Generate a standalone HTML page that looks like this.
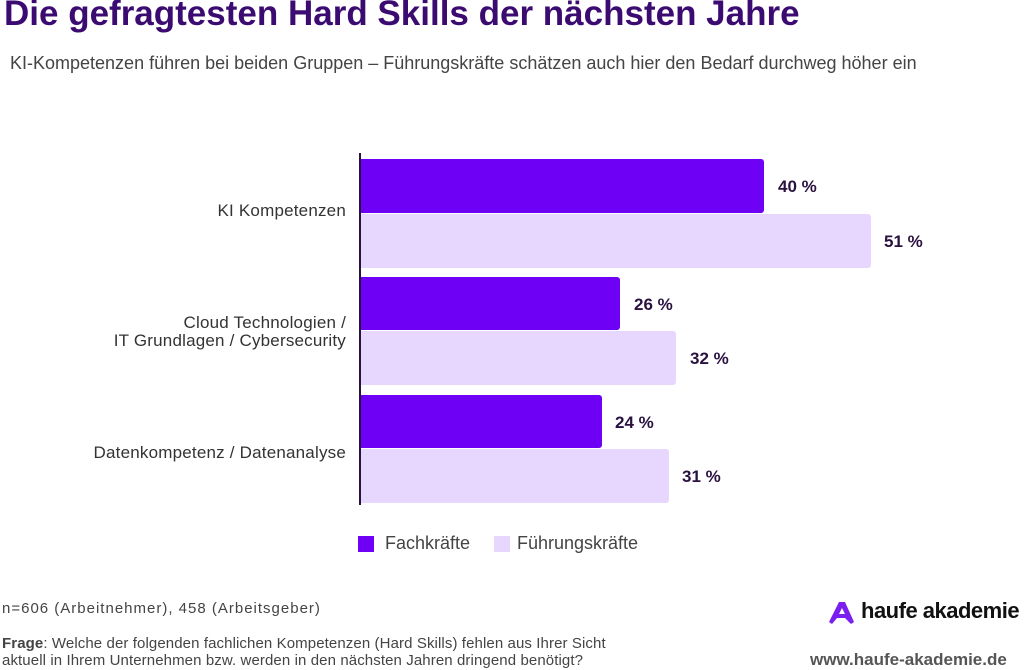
<!DOCTYPE html>
<html><head><meta charset="utf-8"><style>
body{margin:0;width:1024px;height:669px;background:#fff;font-family:"Liberation Sans",sans-serif;position:relative;overflow:hidden}
.a{position:absolute;white-space:nowrap}
.bar{position:absolute;left:361px;border-radius:0 3px 3px 0}
.d{background:#6e00f5}.l{background:#e7d6fd}
.v{position:absolute;font-weight:bold;font-size:17px;color:#2a1240}
.lab{position:absolute;right:678px;text-align:right;font-size:17px;color:#333;line-height:18px;letter-spacing:0.2px}
</style></head><body>
<div class="a" style="left:4px;top:-6px;font-size:35px;font-weight:bold;color:#3b0b72;letter-spacing:0px">Die gefragtesten Hard Skills der nächsten Jahre</div>
<div class="a" style="left:10px;top:53px;font-size:18px;color:#444;letter-spacing:0px">KI-Kompetenzen führen bei beiden Gruppen – Führungskräfte schätzen auch hier den Bedarf durchweg höher ein</div>
<div class="a" style="left:359px;top:153px;width:2px;height:352px;background:#2a1240"></div>
<div class="bar d" style="top:159px;height:54px;width:403px"></div>
<div class="bar l" style="top:214px;height:54px;width:510px"></div>
<div class="bar d" style="top:277px;height:53px;width:259px"></div>
<div class="bar l" style="top:331px;height:54px;width:315px"></div>
<div class="bar d" style="top:395px;height:53px;width:241px"></div>
<div class="bar l" style="top:449px;height:54px;width:308px"></div>
<div class="v" style="left:778px;top:177px">40 %</div>
<div class="v" style="left:884px;top:232px">51 %</div>
<div class="v" style="left:634px;top:295px">26 %</div>
<div class="v" style="left:690px;top:349px">32 %</div>
<div class="v" style="left:615px;top:413px">24 %</div>
<div class="v" style="left:682px;top:467px">31 %</div>
<div class="lab" style="top:202px">KI Kompetenzen</div>
<div class="lab" style="top:314px">Cloud Technologien /<br>IT Grundlagen / Cybersecurity</div>
<div class="lab" style="top:444px">Datenkompetenz / Datenanalyse</div>
<div class="a" style="left:358px;top:536px;width:16px;height:16px;background:#6e00f5"></div>
<div class="a" style="left:385px;top:533px;font-size:18px;color:#444">Fachkräfte</div>
<div class="a" style="left:494px;top:536px;width:16px;height:16px;background:#e7d6fd"></div>
<div class="a" style="left:517px;top:533px;font-size:18px;color:#444">Führungskräfte</div>
<div class="a" style="left:2px;top:600px;font-size:15px;color:#444;letter-spacing:1px">n=606 (Arbeitnehmer), 458 (Arbeitsgeber)</div>
<div class="a" style="left:2px;top:635px;font-size:15px;color:#444;line-height:17px;letter-spacing:0.1px"><b>Frage</b>: Welche der folgenden fachlichen Kompetenzen (Hard Skills) fehlen aus Ihrer Sicht<br>aktuell in Ihrem Unternehmen bzw. werden in den nächsten Jahren dringend benötigt?</div>
<svg class="a" style="left:829px;top:601px" width="26" height="24" viewBox="0 0 26 24"><path d="M10 1h6l9 20-3 2-6-6h-8l-5 6-3-2z M10 13h6l-3-6z" fill="#7a1ff0" fill-rule="evenodd"/></svg>
<div class="a" style="left:861px;top:598px;font-size:22px;font-weight:bold;color:#111;letter-spacing:-0.5px">haufe akademie</div>
<div class="a" style="left:810px;top:650px;font-size:17px;font-weight:bold;color:#555">www.haufe-akademie.de</div>
</body></html>
